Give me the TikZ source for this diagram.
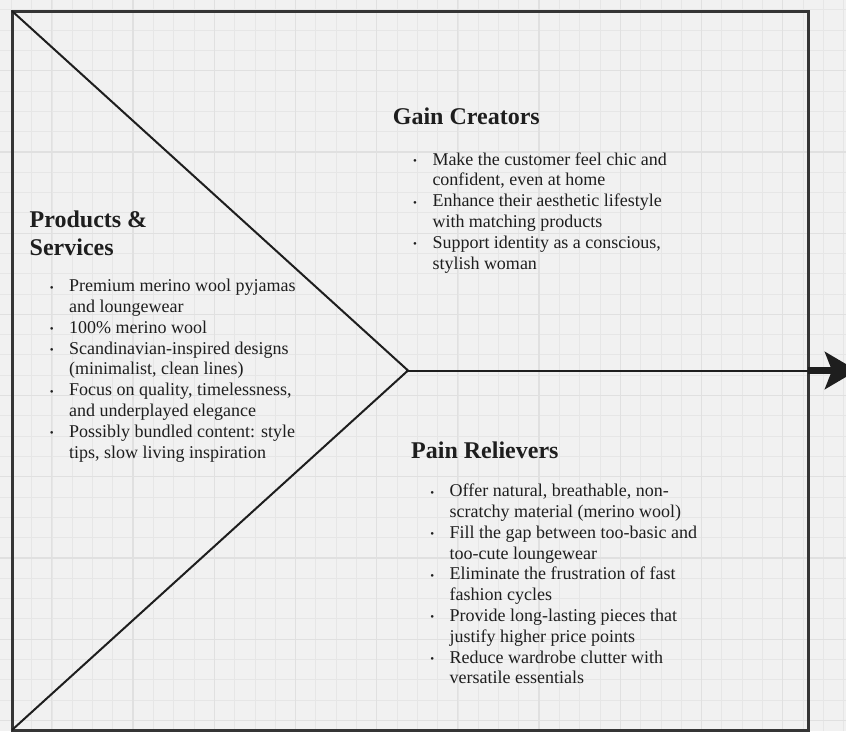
\documentclass[tikz,border=0pt]{standalone}
\usepackage{fontspec}
\setmainfont{Liberation Serif}
\usetikzlibrary{arrows.meta,positioning}

\definecolor{canvas}{RGB}{241,241,241}
\definecolor{minorgrid}{RGB}{230,230,230}
\definecolor{majorgrid}{RGB}{224,224,224}
\definecolor{ink}{RGB}{30,30,30}

% bullet with its hanging indent
\newcommand{\bul}{\makebox[18.5pt][l]{\hspace{-0.8pt}\raisebox{0.6pt}{\fontsize{11}{11}\selectfont\textbullet}}}

\begin{document}
\begin{tikzpicture}[
    x=1pt, y=-1pt,
    gridline/.style={minorgrid, line width=1pt},
    majorline/.style={majorgrid, line width=1.2pt},
    frame/.style={draw=ink!90, line width=3pt},
    edge/.style={draw=ink, line width=2pt},
    bigarrow/.style={draw=ink, line width=7pt, -{Stealth[length=32pt 0 0,width=37pt 0 0,inset=7pt 0 0]}},
    heading/.style={anchor=base west, inner sep=0pt, align=left, text=ink, font=\fontsize{24}{27.7}\selectfont\bfseries},
    itemlist/.style={anchor=base west, inner sep=0pt, text=ink, font=\fontsize{18}{20.8}\selectfont}
]

% canvas and grid
\fill [canvas] (0,0) rectangle (846,731);
\useasboundingbox (0,0) rectangle (846,731);
\begin{scope}
\clip (0,0) rectangle (846,731);
\foreach \x in {11.4,31.7,...,846} \draw [gridline] (\x,0) -- (\x,731);
\foreach \y in {9.8,30.1,...,731} \draw [gridline] (0,\y) -- (846,\y);
\foreach \x in {51.7,132.9,...,846} \draw [majorline] (\x,0) -- (\x,731);
\foreach \y in {70.7,151.9,...,731} \draw [majorline] (0,\y) -- (846,\y);
\end{scope}

% corner points of the canvas
\coordinate (tl) at (12,11);
\coordinate (bl) at (12,730);
\coordinate (br) at (808,730);
\coordinate (apex) at (408,370.5);
\coordinate (re) at (808,370.5);
\coordinate (tip) at (857,370.5);

% frame, chevron and arrow
\draw [frame] (tl) rectangle (br);
\draw [edge] (tl) -- (apex) -- (bl);
\draw [edge] (apex) -- (re);
\draw [bigarrow] (re) -- (tip);

% headings (base is the last line)
\node [heading] (products) at (29.5,255) {Products \&\\Services};
\node [heading] (gains) at (392.7,124.3) {Gain Creators};
\node [heading] (pains) at (411,458) {Pain Relievers};

% bullet lists
\node [itemlist] (productlist) at (50.5,291.7) {%
  \begin{tabular}[t]{@{}l@{}l@{}}
  \bul & Premium merino wool pyjamas\\
       & and loungewear\\
  \bul & 100\% merino wool\\
  \bul & Scandinavian-inspired designs\\
       & (minimalist, clean lines)\\
  \bul & Focus on quality, timelessness,\\
       & and underplayed elegance\\
  \bul & Possibly bundled content: style\\
       & tips, slow living inspiration
  \end{tabular}};
\node [itemlist] (gainlist) at (413.8,165) {%
  \begin{tabular}[t]{@{}l@{}l@{}}
  \bul & Make the customer feel chic and\\
       & confident, even at home\\
  \bul & Enhance their aesthetic lifestyle\\
       & with matching products\\
  \bul & Support identity as a conscious,\\
       & stylish woman
  \end{tabular}};
\node [itemlist] (painlist) at (431,496.7) {%
  \begin{tabular}[t]{@{}l@{}l@{}}
  \bul & Offer natural, breathable, non-\\
       & scratchy material (merino wool)\\
  \bul & Fill the gap between too-basic and\\
       & too-cute loungewear\\
  \bul & Eliminate the frustration of fast\\
       & fashion cycles\\
  \bul & Provide long-lasting pieces that\\
       & justify higher price points\\
  \bul & Reduce wardrobe clutter with\\
       & versatile essentials
  \end{tabular}};

\end{tikzpicture}
\end{document}
